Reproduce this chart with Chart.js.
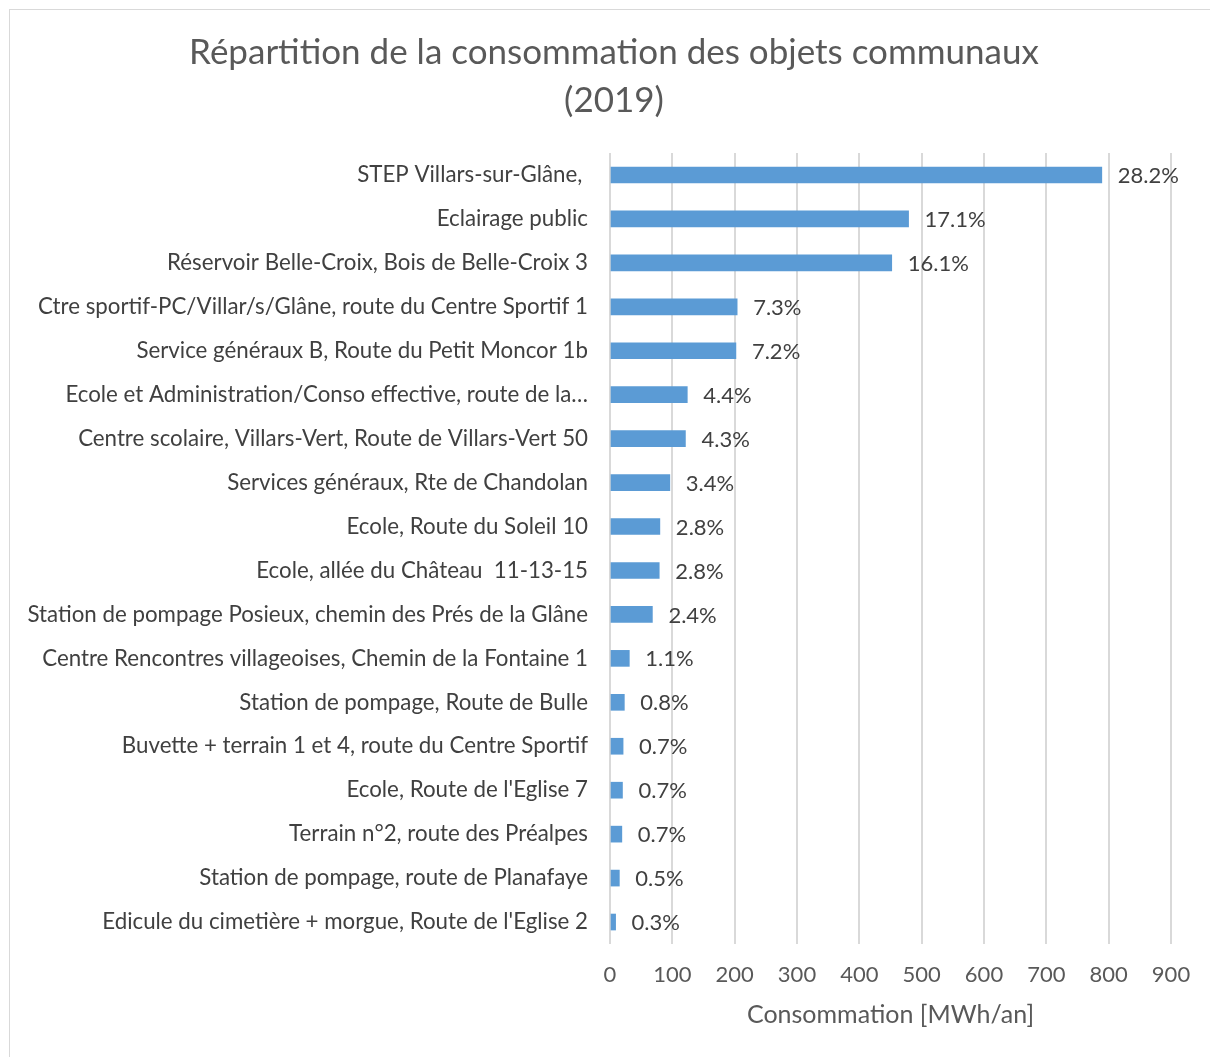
<!DOCTYPE html>
<html>
<head>
<meta charset="utf-8">
<script src="https://cdn.jsdelivr.net/npm/chart.js@4"></script>
<style>
  body { margin: 0; background: #fff; }
  #frame { position: absolute; left: 9px; top: 9px; width: 1220px; height: 1070px; border: 1px solid #d9d9d9; }
  #wrap { position: absolute; left: 0; top: 0; width: 1210px; height: 1057px; }
</style>
</head>
<body>
<div id="frame"></div>
<div id="wrap"><canvas id="chart" width="1210" height="1057"></canvas></div>
<script>
// categories, top to bottom
const objets = [
  "STEP Villars-sur-Glâne, ",
  "Eclairage public",
  "Réservoir Belle-Croix, Bois de Belle-Croix 3",
  "Ctre sportif-PC/Villar/s/Glâne, route du Centre Sportif 1",
  "Service généraux B, Route du Petit Moncor 1b",
  "Ecole et Administration/Conso effective, route de la…",
  "Centre scolaire, Villars-Vert, Route de Villars-Vert 50",
  "Services généraux, Rte de Chandolan",
  "Ecole, Route du Soleil 10",
  "Ecole, allée du Château  11-13-15",
  "Station de pompage Posieux, chemin des Prés de la Glâne",
  "Centre Rencontres villageoises, Chemin de la Fontaine 1",
  "Station de pompage, Route de Bulle",
  "Buvette + terrain 1 et 4, route du Centre Sportif",
  "Ecole, Route de l'Eglise 7",
  "Terrain n°2, route des Préalpes",
  "Station de pompage, route de Planafaye",
  "Edicule du cimetière + morgue, Route de l'Eglise 2"
];

const consommation = [789, 479, 452, 204, 202, 124, 121, 96, 80, 79, 68, 31, 23, 21, 20, 19, 15, 9];

// percentage labels shown next to the bars
const parts = ["28.2%", "17.1%", "16.1%", "7.3%", "7.2%", "4.4%", "4.3%", "3.4%", "2.8%", "2.8%",
  "2.4%", "1.1%", "0.8%", "0.7%", "0.7%", "0.7%", "0.5%", "0.3%"];

const xTicks = [0, 100, 200, 300, 400, 500, 600, 700, 800, 900];

const titre = ["Répartition de la consommation des objets communaux", "(2019)"];

const FONT = "Lato, 'Open Sans', sans-serif";

// draws the percentages at the end of each bar
const barLabels = {
  id: "barLabels",
  afterDatasetsDraw(chart) {
    const ctx = chart.ctx;
    const meta = chart.getDatasetMeta(0);
    ctx.save();
    ctx.font = "22px " + FONT;
    ctx.fillStyle = "#404040";
    ctx.textAlign = "left";
    ctx.textBaseline = "middle";
    meta.data.forEach(function (bar, i) {
      ctx.fillText(parts[i], bar.x + 16, bar.y + 1);
    });
    ctx.restore();
  }
};

// chart title, centred on the frame rather than on the layout box
const chartTitle = {
  id: "chartTitle",
  afterDraw(chart) {
    const ctx = chart.ctx;
    ctx.save();
    ctx.font = "35px " + FONT;
    ctx.fillStyle = "#595959";
    ctx.textAlign = "center";
    ctx.textBaseline = "middle";
    titre.forEach(function (line, i) {
      ctx.fillText(line, chart.width / 2 + 9, 53 + i * 48);
    });
    ctx.restore();
  }
};

new Chart(document.getElementById("chart"), {
  type: "bar",
  data: {
    labels: objets,
    datasets: [
      {
        data: consommation,
        backgroundColor: "#5b9bd5",
        borderWidth: 0,
        barThickness: 16
      }
    ]
  },
  plugins: [barLabels, chartTitle],
  options: {
    indexAxis: "y",
    responsive: false,
    animation: false,
    layout: { padding: { left: 0, right: 39, top: 153, bottom: 25 } },
    plugins: {
      legend: { display: false },
      tooltip: { enabled: false },
      title: { display: false }
    },
    scales: {
      x: {
        min: 0,
        max: 900,
        afterBuildTicks: function (scale) {
          scale.ticks = xTicks.map(function (v) { return { value: v }; });
        },
        grid: { color: "#d9d9d9", lineWidth: 2, drawTicks: false },
        border: { display: false },
        ticks: { color: "#595959", padding: 18, font: { family: FONT, size: 22 } },
        title: {
          display: true,
          text: "Consommation [MWh/an]",
          color: "#595959",
          font: { family: FONT, size: 25 },
          padding: { top: 10, bottom: 2 }
        },
        afterFit: function (scale) {
          scale.height = 88;
        }
      },
      y: {
        grid: { display: false, drawTicks: false },
        border: { display: false },
        ticks: { color: "#404040", padding: 22, autoSkip: false, font: { family: FONT, size: 22.3 } },
        afterFit: function (scale) {
          scale.width = 610;
        }
      }
    }
  }
});
</script>
</body>
</html>
